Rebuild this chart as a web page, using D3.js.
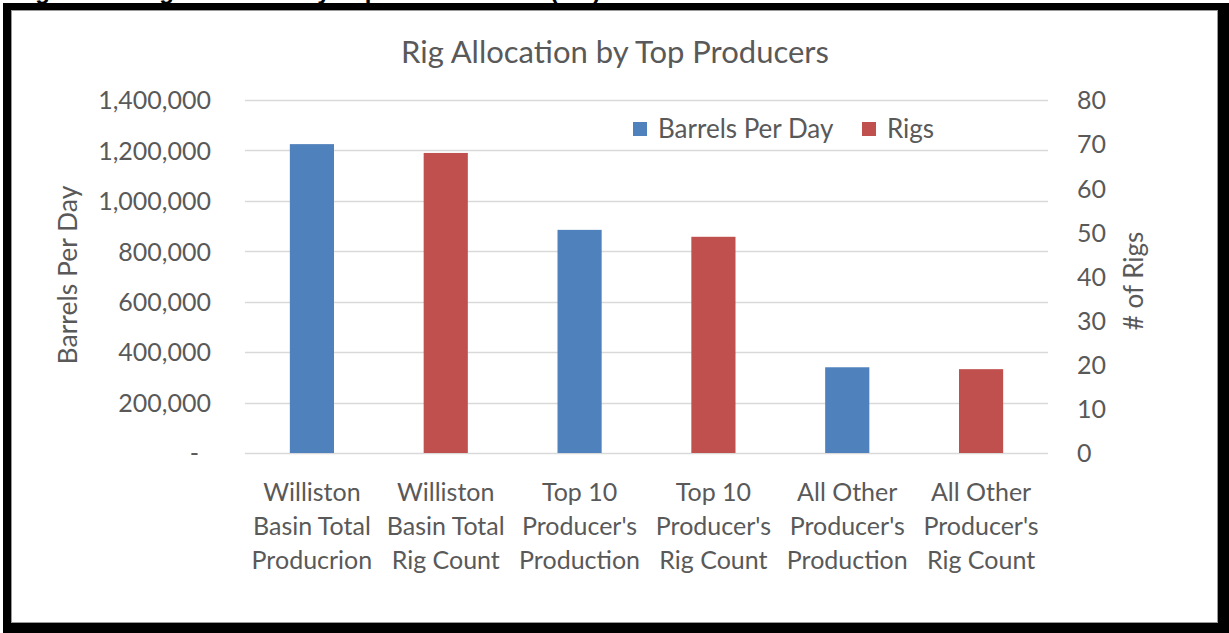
<!DOCTYPE html>
<html><head><meta charset="utf-8">
<script src="https://cdn.jsdelivr.net/npm/d3@7"></script>
<style>
html,body{margin:0;padding:0;background:#fff;}
svg{display:block;}
text{font-family:Lato, "Open Sans", sans-serif;fill:#595959;}
</style></head>
<body>
<svg id="c" width="1229" height="633"></svg>
<script>
// ---- data ----
const categories = [
  ["Williston", "Basin Total", "Producrion"],
  ["Williston", "Basin Total", "Rig Count"],
  ["Top 10", "Producer's", "Production"],
  ["Top 10", "Producer's", "Rig Count"],
  ["All Other", "Producer's", "Production"],
  ["All Other", "Producer's", "Rig Count"]
];
const barrelsPerDay = [1225000, null, 885000, null, 340000, null];
const rigs = [null, 68, null, 49, null, 19];
const leftTicks = [0, 200000, 400000, 600000, 800000, 1000000, 1200000, 1400000];
const leftTickLabels = ["-", "200,000", "400,000", "600,000", "800,000", "1,000,000", "1,200,000", "1,400,000"];
const rightTicks = [0, 10, 20, 30, 40, 50, 60, 70, 80];
const rightTickLabels = ["0", "10", "20", "30", "40", "50", "60", "70", "80"];
const seriesNames = ["Barrels Per Day", "Rigs"];
const title = "Rig Allocation by Top Producers";
const figureCaption = "Figure 10: Rig Allocation by Top Oil Producers (ND)";

const svg = d3.select("#c");
const W = 1229, H = 633;
const blue = "#4f81bd", red = "#c0504d";

// frame
svg.append("rect").attr("x", 3).attr("y", 3).attr("width", W - 3).attr("height", H - 3).attr("fill", "#000");
svg.append("rect").attr("x", 11).attr("y", 10).attr("width", 1207).attr("height", 613).attr("fill", "#fff");
svg.append("rect").attr("x", 11.5).attr("y", 10.5).attr("width", 1206).attr("height", 612)
  .attr("fill", "none").attr("stroke", "#9a9a9a").attr("stroke-width", 1);
// cut-off caption at top (only its descenders show, as in the source image)
svg.append("text").attr("x", 14).attr("y", -1).text(figureCaption)
  .style("font-family", "'Liberation Sans', Arial, sans-serif").style("font-weight", "bold")
  .style("font-size", "24px").style("fill", "#000");

const x0 = 245, x1 = 1048, yTop = 100, yBot = 453;
const x = d3.scaleBand().domain(d3.range(categories.length)).range([x0, x1])
  .paddingInner(0.67).paddingOuter(0.335);
const yL = d3.scaleLinear().domain([0, 1400000]).range([yBot, yTop]);
const yR = d3.scaleLinear().domain([0, 80]).range([yBot, yTop]);

// gridlines
svg.append("g").selectAll("line").data(leftTicks).join("line")
  .attr("x1", x0).attr("x2", x1)
  .attr("y1", d => Math.round(yL(d)) + 0.5).attr("y2", d => Math.round(yL(d)) + 0.5)
  .attr("stroke", "#d9d9d9").attr("stroke-width", 1.5);

// left axis
const gL = svg.append("g").attr("transform", `translate(${x0},0)`)
  .call(d3.axisLeft(yL).tickValues(leftTicks).tickSize(0).tickPadding(34)
    .tickFormat((d, i) => leftTickLabels[i]));
gL.select(".domain").remove();
gL.selectAll("text").style("font-family", "Lato").style("font-size", "25px").attr("fill", "#5f5f5f")
  .attr("dy", "0.35em")
  .attr("dx", (d, i) => i === 0 ? -12 : 0);

// right axis
const gR = svg.append("g").attr("transform", `translate(${x1},0)`)
  .call(d3.axisRight(yR).tickValues(rightTicks).tickSize(0).tickPadding(29)
    .tickFormat((d, i) => rightTickLabels[i]));
gR.select(".domain").remove();
gR.selectAll("text").style("font-family", "Lato").style("font-size", "25px").attr("fill", "#5f5f5f")
  .attr("dy", "0.35em");

// bars
svg.append("g").selectAll("rect").data(barrelsPerDay.map((v, i) => ({v, i})).filter(d => d.v != null))
  .join("rect")
  .attr("x", d => x(d.i)).attr("width", x.bandwidth())
  .attr("y", d => yL(d.v)).attr("height", d => yBot - yL(d.v))
  .attr("fill", blue);
svg.append("g").selectAll("rect").data(rigs.map((v, i) => ({v, i})).filter(d => d.v != null))
  .join("rect")
  .attr("x", d => x(d.i)).attr("width", x.bandwidth())
  .attr("y", d => yR(d.v)).attr("height", d => yBot - yR(d.v))
  .attr("fill", red);

// x category labels
const xl = svg.append("g").selectAll("text").data(categories).join("text")
  .attr("text-anchor", "middle")
  .style("font-size", "25px")
  .attr("x", (d, i) => x(i) + x.bandwidth() / 2)
  .attr("y", 501);
xl.selectAll("tspan").data(d => d).join("tspan")
  .attr("x", function () { return d3.select(this.parentNode).attr("x"); })
  .attr("dy", (d, j) => j === 0 ? 0 : 34)
  .text(d => d);

// title
svg.append("text").attr("x", 615).attr("y", 63).attr("text-anchor", "middle")
  .style("font-size", "31px").text(title);

// axis titles
svg.append("text").attr("transform", "translate(77,275) rotate(-90)").attr("text-anchor", "middle")
  .style("font-size", "26.5px").text("Barrels Per Day");
svg.append("text").attr("transform", "translate(1143,281) rotate(-90)").attr("text-anchor", "middle")
  .style("font-size", "26px").text("# of Rigs");

// legend
const leg = svg.append("g");
const legItems = [{name: seriesNames[0], color: blue, x: 633}, {name: seriesNames[1], color: red, x: 862}];
leg.selectAll("rect").data(legItems).join("rect")
  .attr("x", d => d.x).attr("y", 122).attr("width", 14).attr("height", 14).attr("fill", d => d.color);
leg.selectAll("text").data(legItems).join("text")
  .attr("x", d => d.x + 25).attr("y", 138).style("font-size", "26px").text(d => d.name);
</script>
</body></html>
